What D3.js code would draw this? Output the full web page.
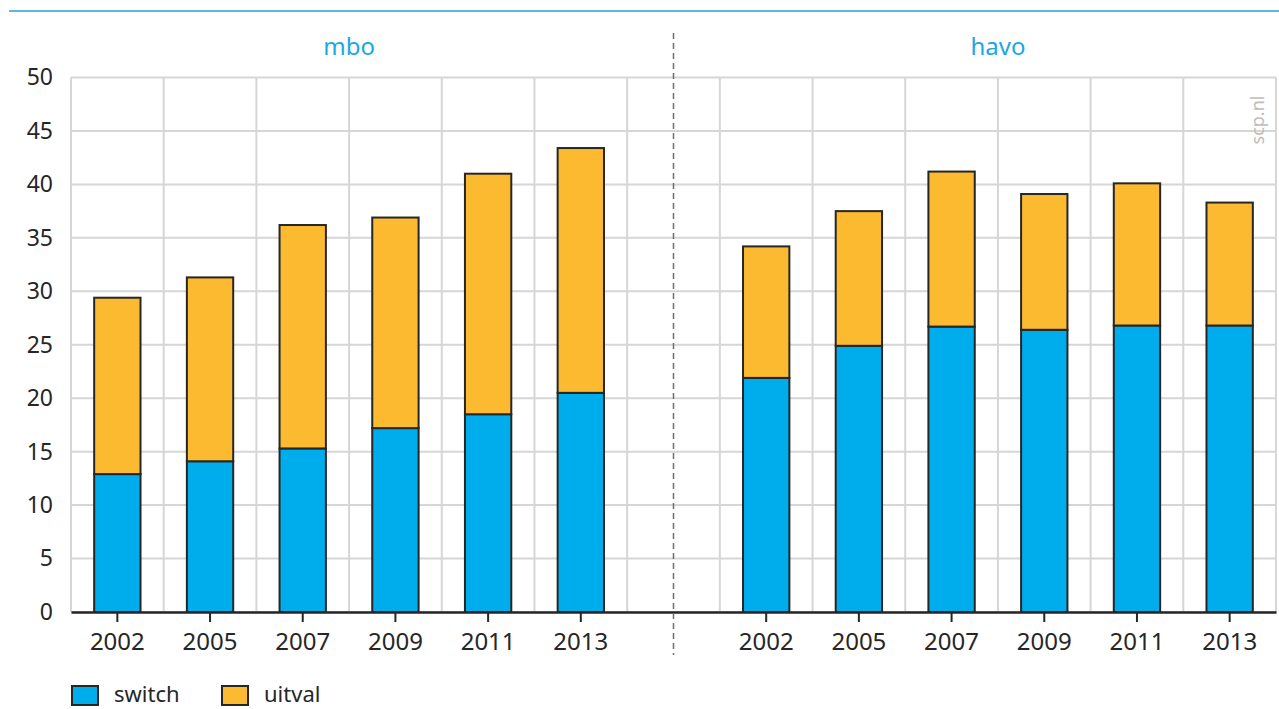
<!DOCTYPE html>
<html><head><meta charset="utf-8">
<script src="https://cdn.jsdelivr.net/npm/d3@7/dist/d3.min.js"></script>
<style>
html,body{margin:0;padding:0;background:#fff;}
svg{display:block;font-family:"Noto Sans","Open Sans",sans-serif;}
</style></head>
<body>
<svg id="chart" width="1279" height="709"></svg>
<script>
const groups = ["mbo", "havo"];
const years = ["2002", "2005", "2007", "2009", "2011", "2013"];
const switchMbo = [12.9, 14.1, 15.3, 17.2, 18.5, 20.5];
const uitvalMbo = [16.5, 17.2, 20.9, 19.7, 22.5, 22.9];
const switchHavo = [21.9, 24.9, 26.7, 26.4, 26.8, 26.8];
const uitvalHavo = [12.3, 12.6, 14.5, 12.7, 13.3, 11.5];
const yTicks = [0, 5, 10, 15, 20, 25, 30, 35, 40, 45, 50];
const seriesNames = ["switch", "uitval"];
const colors = {switch: "#00adec", uitval: "#fcba30"};

(function () {
const svg = d3.select("#chart");
const pLeft = 71, pRight = 1276, pTop = 77.5, pBottom = 612;

// slots: mbo years, a gap, havo years
const slots = [...years.map(y => "mbo|" + y), "gap", ...years.map(y => "havo|" + y)];
const x = d3.scaleBand().domain(slots).range([pLeft, pRight]).padding(0);
const y = d3.scaleLinear().domain([0, 50]).range([pBottom, pTop]);

const rows = [];
years.forEach((yr, i) => {
  rows.push({slot: "mbo|" + yr, switch: switchMbo[i], uitval: uitvalMbo[i]});
  rows.push({slot: "havo|" + yr, switch: switchHavo[i], uitval: uitvalHavo[i]});
});
const stacked = d3.stack().keys(seriesNames)(rows);

// top rule
svg.append("line").attr("x1", 9).attr("x2", 1279).attr("y1", 11).attr("y2", 11)
  .attr("stroke", "#62b5e1").attr("stroke-width", 2);

// grid
const grid = svg.append("g");
yTicks.forEach(t => {
  grid.append("line").attr("x1", pLeft).attr("x2", pRight).attr("y1", y(t)).attr("y2", y(t))
    .attr("stroke", "#d6d6d6").attr("stroke-width", 2);
});
const edges = slots.map(s => x(s)).concat([x(slots[slots.length - 1]) + x.bandwidth()]);
edges.forEach(e => {
  grid.append("line").attr("x1", e).attr("x2", e).attr("y1", pTop).attr("y2", pBottom)
    .attr("stroke", "#d6d6d6").attr("stroke-width", 2);
});

// bars
const bw = x.bandwidth() * 0.5;
stacked.forEach(layer => {
  svg.append("g").selectAll("rect").data(layer).join("rect")
    .attr("x", d => x(d.data.slot) + (x.bandwidth() - bw) / 2)
    .attr("width", bw)
    .attr("y", d => y(d[1]))
    .attr("height", d => y(d[0]) - y(d[1]))
    .attr("fill", colors[layer.key])
    .attr("stroke", "#262626").attr("stroke-width", 2);
});

// x axis
const xAxis = d3.axisBottom(x)
  .tickValues(slots.filter(s => s !== "gap"))
  .tickFormat(s => s.split("|")[1])
  .tickSize(10).tickSizeOuter(0).tickPadding(11);
const gx = svg.append("g").attr("transform", `translate(0,${pBottom})`).call(xAxis);
gx.select(".domain").attr("stroke", "#262626").attr("stroke-width", 2.5);
gx.selectAll(".tick line").attr("stroke", "#262626").attr("stroke-width", 2);
gx.selectAll(".tick text").attr("font-size", 24).attr("fill", "#262626")
  .attr("font-family", "'Noto Sans', sans-serif");

// y axis
const yAxis = d3.axisLeft(y).tickValues(yTicks).tickSize(0).tickPadding(18);
const gy = svg.append("g").attr("transform", `translate(${pLeft},0)`).call(yAxis);
gy.select(".domain").remove();
gy.selectAll(".tick text").attr("font-size", 23).attr("fill", "#262626")
  .attr("font-family", "'Noto Sans', sans-serif");

// separator
const gapCenter = x("gap") + x.bandwidth() / 2;
svg.append("line").attr("x1", gapCenter).attr("x2", gapCenter).attr("y1", 33).attr("y2", 655)
  .attr("stroke", "#6e6e6e").attr("stroke-width", 1.5).attr("stroke-dasharray", "6,4");

// panel titles
groups.forEach(g => {
  const a = x(g + "|" + years[0]);
  const b = x(g + "|" + years[years.length - 1]) + x.bandwidth();
  svg.append("text").attr("x", (a + b) / 2).attr("y", 55).attr("text-anchor", "middle")
    .attr("font-size", 24).attr("fill", "#1ba7e3").text(g);
});

// watermark
svg.append("text").attr("transform", "translate(1264,120) rotate(-90)")
  .attr("text-anchor", "middle").attr("font-size", 18).attr("fill", "#bdbdbd").text("scp.nl");

// legend
const lg = svg.append("g");
const legendX = [72, 222];
seriesNames.forEach((s, i) => {
  lg.append("rect").attr("x", legendX[i]).attr("y", 686).attr("width", 26).attr("height", 19)
    .attr("fill", colors[s]).attr("stroke", "#262626").attr("stroke-width", 2);
  lg.append("text").attr("x", legendX[i] + 42).attr("y", 702).attr("font-size", 22)
    .attr("fill", "#262626").text(s);
});
})();
</script>
</body></html>
